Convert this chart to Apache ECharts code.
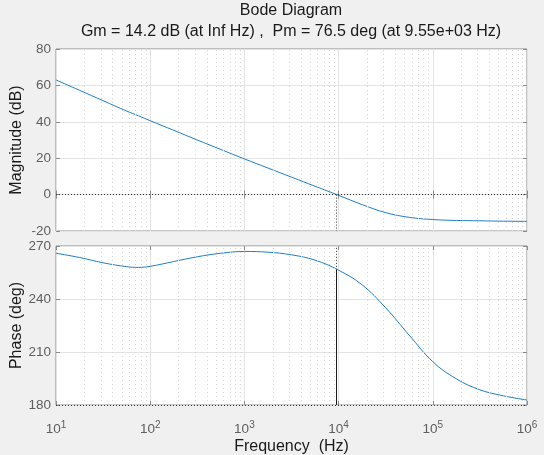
<!DOCTYPE html>
<html>
<head>
<meta charset="utf-8">
<title>Bode Diagram</title>
<script src="https://cdn.jsdelivr.net/npm/echarts@6/dist/echarts.min.js"></script>
<style>
  html, body { margin: 0; padding: 0; background: #f0f0f0; }
  #main { width: 544px; height: 455px; }
</style>
</head>
<body>
<div id="main"></div>
<script>
// frequency points (Hz)
var freqHz   = [10, 17.8, 31.6, 56.2, 75, 100, 178, 316, 562, 1000, 1778, 3162, 5623, 10000, 17783, 31623, 56234, 100000, 177828, 316228, 562341, 1000000];
// magnitude (dB)
var magDb    = [63.0, 57.3, 51.6, 45.9, 43.3, 40.6, 35.3, 30.0, 24.8, 19.6, 14.6, 9.6, 4.6, -0.4, -5.5, -9.9, -12.5, -13.7, -14.2, -14.4, -14.6, -14.7];
// phase (deg)
var phaseDeg = [265.9, 263.5, 260.5, 258.3, 257.9, 258.5, 261.2, 263.9, 265.9, 266.9, 266.5, 265.0, 262.0, 256.3, 248.0, 235.0, 219.5, 204.5, 194.8, 188.6, 185.2, 182.8];

var magTicks = [-20, 80, 20];     // min, max, step
var phaseTicks = [180, 270, 30];
var decades = [1, 2, 3, 4, 5];    // 10^1 .. 10^5 for minor grid
var pmFreq = 9550, pmPhase = 256.5;
var titleText = 'Bode Diagram';
var subText = 'Gm = 14.2 dB (at Inf Hz) ,  Pm = 76.5 deg (at 9.55e+03 Hz)';

var minorFreqs = [];
decades.forEach(function (d) {
  for (var m = 2; m <= 9; m++) minorFreqs.push(m * Math.pow(10, d));
});

var chart = echarts.init(document.getElementById('main'));
var font = 'Liberation Sans, Arial, Helvetica, sans-serif';
var boxCol = '#8c8c8c';
var lblCol = '#5e5e5e';

function minorLines() {
  return minorFreqs.map(function (f) { return { xAxis: f }; });
}

function xAx(gi, pos, showLabels) {
  return {
    type: 'log', logBase: 10, min: 10, max: 1000000, splitNumber: 5,
    gridIndex: gi, position: pos,
    axisLine: { show: false },
    axisTick: { show: true, inside: true, length: 4, lineStyle: { color: boxCol } },
    splitLine: { show: pos === 'bottom', lineStyle: { color: '#e3e3e3', width: 1 } },
    axisLabel: {
      show: showLabels, color: lblCol, margin: 15, fontFamily: font,
      formatter: function (v) { return '{b|10}{s|' + Math.round(Math.log10(v)) + '}'; },
      rich: {
        b: { fontSize: 13.5, color: lblCol, fontFamily: font },
        s: { fontSize: 10, color: lblCol, fontFamily: font, padding: [0, 0, 9, 0] }
      }
    },
    name: showLabels ? 'Frequency  (Hz)' : '',
    nameLocation: 'middle', nameGap: 34, nameMoveOverlap: false,
    nameTextStyle: { color: '#1a1a1a', fontSize: 16, fontFamily: font }
  };
}

function yAx(gi, pos, t, name) {
  return {
    type: 'value', min: t[0], max: t[1], interval: t[2],
    gridIndex: gi, position: pos,
    axisLine: { show: false },
    axisTick: { show: true, inside: true, length: 4, lineStyle: { color: boxCol } },
    splitLine: { show: pos === 'left', lineStyle: { color: '#e3e3e3', width: 1 } },
    axisLabel: { show: pos === 'left', color: lblCol, fontSize: 13.5, fontFamily: font, margin: 5 },
    name: pos === 'left' ? name : '',
    nameLocation: 'middle', nameGap: 31, nameMoveOverlap: false,
    nameTextStyle: { color: '#1a1a1a', fontSize: 16, fontFamily: font }
  };
}

var magData = freqHz.map(function (f, i) { return [f, magDb[i]]; });
var phaseData = freqHz.map(function (f, i) { return [f, phaseDeg[i]]; });

var option = {
  backgroundColor: '#f0f0f0',
  animation: false,
  textStyle: { fontFamily: font },
  graphic: [
    { type: 'text', x: 291, y: 3, silent: true,
      style: { text: titleText, textAlign: 'center', fill: '#1a1a1a', fontSize: 16, fontFamily: font } },
    { type: 'text', x: 291, y: 24, silent: true,
      style: { text: subText, textAlign: 'center', fill: '#1a1a1a', fontSize: 16, fontFamily: font } }
  ],
  grid: [
    { left: 56, right: 17, top: 49, height: 182, outerBoundsMode: 'none', containLabel: false,
      show: true, backgroundColor: '#ffffff', borderColor: boxCol, borderWidth: 1 },
    { left: 56, right: 17, top: 246, height: 159, outerBoundsMode: 'none', containLabel: false,
      show: true, backgroundColor: '#ffffff', borderColor: boxCol, borderWidth: 1 }
  ],
  xAxis: [
    xAx(0, 'bottom', false), xAx(0, 'top', false),
    xAx(1, 'bottom', true), xAx(1, 'top', false)
  ],
  yAxis: [
    yAx(0, 'left', magTicks, 'Magnitude (dB)'), yAx(0, 'right', magTicks, ''),
    yAx(1, 'left', phaseTicks, 'Phase (deg)'), yAx(1, 'right', phaseTicks, '')
  ],
  series: [
    {
      type: 'line', xAxisIndex: 0, yAxisIndex: 0, data: magData,
      smooth: 0.4, showSymbol: false, silent: true,
      lineStyle: { color: '#1f7fc6', width: 1 },
      markLine: {
        silent: true, symbol: 'none', label: { show: false }, animation: false,
        lineStyle: { color: '#d6d6d6', type: [1, 3], width: 1 },
        data: minorLines().concat([
          { yAxis: 0, lineStyle: { color: '#333333', type: [1, 2] } },
          [{ coord: [pmFreq, 0], lineStyle: { color: '#333333', type: [1, 2] } }, { coord: [pmFreq, magTicks[0]] }]
        ])
      }
    },
    {
      type: 'line', xAxisIndex: 2, yAxisIndex: 2, data: phaseData,
      smooth: 0.4, showSymbol: false, silent: true,
      lineStyle: { color: '#1f7fc6', width: 1 },
      markLine: {
        silent: true, symbol: 'none', label: { show: false }, animation: false,
        lineStyle: { color: '#d6d6d6', type: [1, 3], width: 1 },
        data: minorLines().concat([
          { yAxis: 180, lineStyle: { color: '#333333', type: [1, 2] } },
          [{ coord: [pmFreq, phaseTicks[0]], lineStyle: { color: '#1a1a1a', type: 'solid' } }, { coord: [pmFreq, pmPhase] }],
          [{ coord: [pmFreq, pmPhase], lineStyle: { color: '#333333', type: [1, 2] } }, { coord: [pmFreq, phaseTicks[1]] }]
        ])
      }
    }
  ]
};
chart.setOption(option);
</script>
</body>
</html>
